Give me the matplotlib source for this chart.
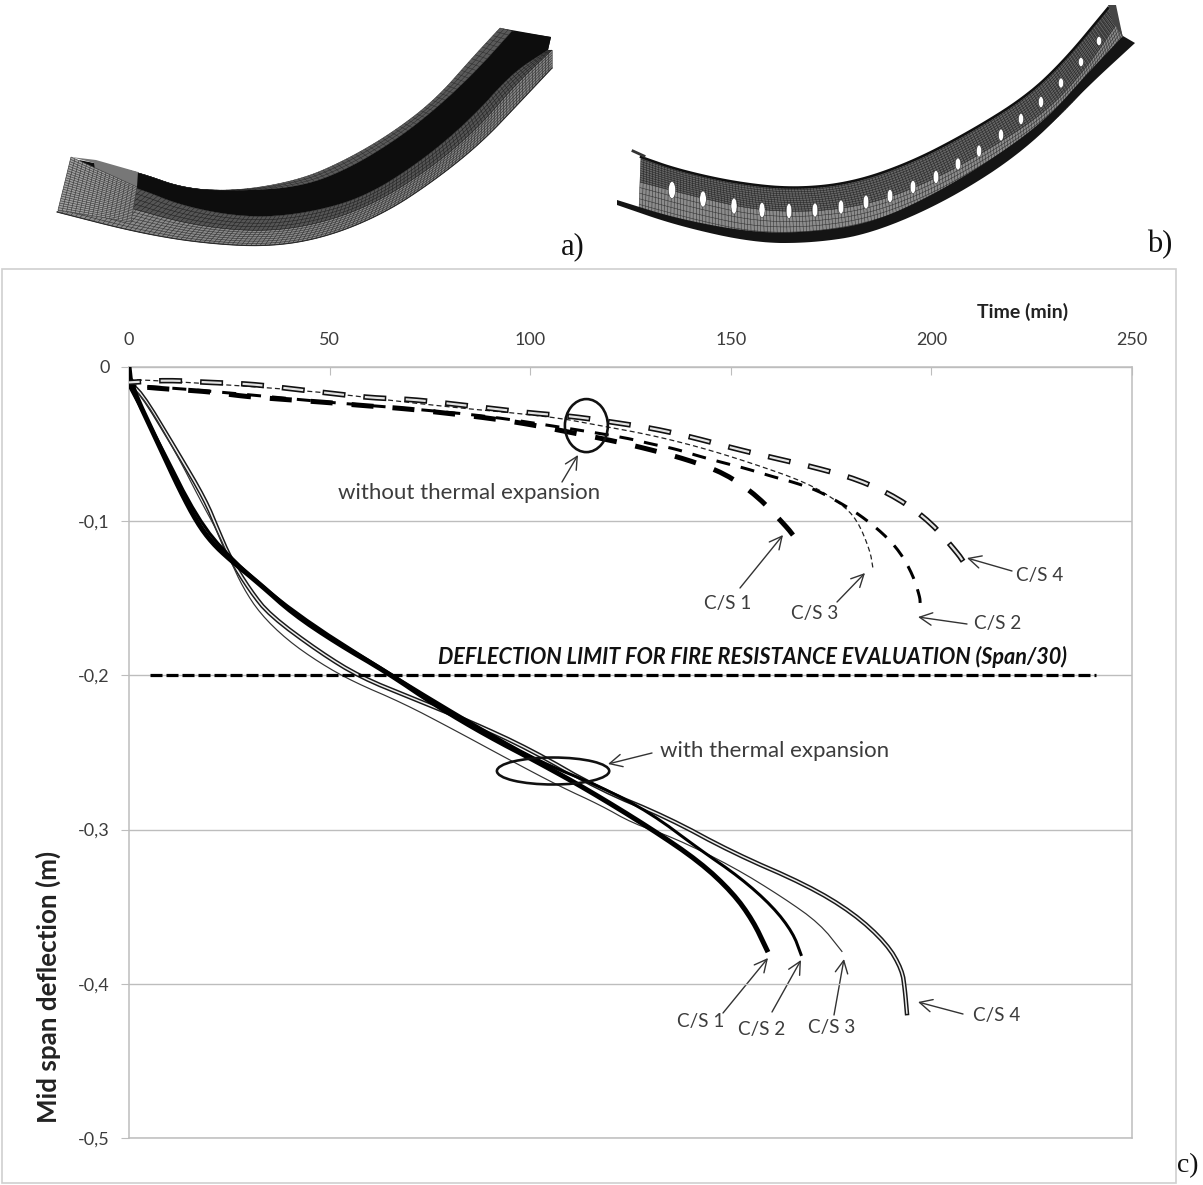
import numpy as np
import matplotlib
matplotlib.use("Agg")
import matplotlib.pyplot as plt
from matplotlib.collections import LineCollection
from matplotlib.patches import Ellipse, Polygon, Rectangle

plt.rcParams['font.family'] = ['Lato', 'DejaVu Sans']

# ---- data: without thermal expansion ----
t_no1 = [0, 7.7, 20.2, 28.4, 38.4, 49.4, 58.3, 68.8, 79.3, 89.2, 99.5, 109.2, 119.1, 129.1, 139.1, 148.6, 156.8, 164, 165.5]
d_no1 = [-0.012, -0.014, -0.016, -0.019, -0.021, -0.023, -0.025, -0.027, -0.030, -0.033, -0.037, -0.042, -0.047, -0.053, -0.060, -0.069, -0.084, -0.104, -0.109]
t_no2 = [0, 12.7, 30, 50, 70, 90, 110, 124, 130.3, 136, 142.3, 148, 154, 160.3, 166, 171.5, 177.2, 182.2, 188, 192.2, 195.4, 197.1, 197.2]
d_no2 = [-0.012, -0.014, -0.018, -0.023, -0.027, -0.032, -0.040, -0.046, -0.050, -0.053, -0.058, -0.062, -0.066, -0.071, -0.075, -0.080, -0.088, -0.096, -0.108, -0.120, -0.135, -0.149, -0.153]
t_no3 = [0, 2.7, 44.4, 75.8, 104.9, 117.4, 129.9, 142.3, 154.8, 169, 177.2, 181.5, 184.7, 185.4]
d_no3 = [-0.009, -0.008, -0.015, -0.025, -0.032, -0.038, -0.044, -0.052, -0.062, -0.075, -0.088, -0.099, -0.119, -0.130]
t_no4 = [0, 9.5, 19.7, 30.2, 40.1, 50.1, 60.3, 70.5, 80.8, 90.7, 100.7, 110.6, 121.1, 131, 141.1, 151.1, 160.8, 170.8, 181.8, 191.7, 200, 206.6, 207.9]
d_no4 = [-0.010, -0.0085, -0.010, -0.011, -0.014, -0.017, -0.020, -0.021, -0.024, -0.027, -0.030, -0.032, -0.036, -0.040, -0.046, -0.053, -0.059, -0.065, -0.073, -0.085, -0.101, -0.121, -0.126]

# ---- data: with thermal expansion ----
t_ex1 = [0, 0.5, 7.7, 12.7, 17, 20.7, 25.2, 32.7, 40.9, 51.8, 64.3, 76.8, 89.2, 101.7, 114.2, 129.9, 142.3, 150.5, 155.5, 159]
d_ex1 = [0, -0.012, -0.052, -0.080, -0.101, -0.114, -0.125, -0.141, -0.160, -0.179, -0.198, -0.220, -0.239, -0.256, -0.274, -0.299, -0.321, -0.341, -0.359, -0.378]
t_ex2 = [0, 7.7, 17, 25.2, 40.9, 64.3, 89.2, 102.4, 117.4, 129.9, 142.3, 152.3, 160.5, 165.5, 167.5]
d_ex2 = [-0.012, -0.050, -0.098, -0.124, -0.159, -0.198, -0.237, -0.256, -0.272, -0.289, -0.313, -0.331, -0.350, -0.367, -0.381]
t_ex3 = [0, 4, 12, 17.7, 21.9, 25.2, 28.4, 32.7, 39.4, 47.6, 55.8, 68.3, 80.8, 95, 107.4, 117.4, 125.6, 135.6, 150.5, 163, 172.2, 177.7]
d_ex3 = [-0.012, -0.021, -0.057, -0.086, -0.106, -0.125, -0.143, -0.160, -0.177, -0.192, -0.204, -0.218, -0.235, -0.255, -0.272, -0.284, -0.296, -0.305, -0.324, -0.344, -0.361, -0.379]
t_ex4 = [0, 2.7, 12, 19, 22.2, 25.2, 30.2, 35.1, 47.6, 57.6, 70.8, 85, 100, 117.4, 134.1, 150.5, 169, 180.5, 188.9, 192.7, 193.4, 193.9]
d_ex4 = [-0.012, -0.015, -0.055, -0.086, -0.106, -0.124, -0.145, -0.161, -0.185, -0.201, -0.215, -0.230, -0.248, -0.274, -0.292, -0.315, -0.336, -0.354, -0.374, -0.391, -0.404, -0.419]

t_limit = [5.2, 241]
d_limit = [-0.2, -0.2]

x_ticks = [0, 50, 100, 150, 200, 250]
y_ticks = [0, -0.1, -0.2, -0.3, -0.4, -0.5]
y_labels = ['0', '-0,1', '-0,2', '-0,3', '-0,4', '-0,5']

W, H = 1203, 1185
PX = 0.72  # points per pixel at dpi 100
fig = plt.figure(figsize=(W / 100, H / 100), dpi=100, facecolor='white')

GRAY = '#bdbdbd'
TXT = '#3c3c3c'


def chaikin(p, n=3):
    """Corner rounding for drawing only, keeping both end points."""
    p = np.array(p, float)
    for _ in range(n):
        q = 0.75 * p[:-1] + 0.25 * p[1:]
        r = 0.25 * p[:-1] + 0.75 * p[1:]
        m = np.empty((2 * len(q), 2))
        m[0::2], m[1::2] = q, r
        p = np.r_[p[:1], m, p[-1:]]
    return p


def smooth(x, y):
    s = chaikin(np.c_[x, y], 2)
    return s[:, 0], s[:, 1]


# ---- overlay in pixel space: frame, beam views, notes ----
ov = fig.add_axes([0, 0, 1, 1], zorder=1)
ov.set_xlim(0, W)
ov.set_ylim(H, 0)
ov.axis('off')

ax = fig.add_axes([129 / W, 1 - 1138 / H, 1003 / W, 771 / H], zorder=2)
ax.patch.set_alpha(0)
ax.set_xlim(0, 250)
ax.set_ylim(-0.5, 0)
ax.set_xticks(x_ticks)
ax.set_yticks(y_ticks)
ax.set_yticklabels(y_labels)
ax.xaxis.tick_top()
ax.grid(axis='y', color=GRAY, lw=1.0)
ax.set_axisbelow(True)
for s in ax.spines.values():
    s.set_color(GRAY)
    s.set_linewidth(1.1)
ax.tick_params(axis='x', direction='in', length=6, color=GRAY, labelsize=13, labelcolor=TXT, pad=14)
ax.tick_params(axis='y', direction='out', length=6, color=GRAY, labelsize=13, labelcolor=TXT, pad=8)


def end_phase(x, y, on, off):
    """Dash phase, in pixels, that makes the last dash finish at the curve's end."""
    sx, sy = smooth(x, y)
    length = np.hypot(np.diff(sx) * 1003 / 250, np.diff(sy) * 771 / 0.5).sum()
    return (-(length - on)) % (on + off)


def dash(x, y, lw, on, off, color='black', offset=0.0, z=3):
    sx, sy = smooth(x, y)
    ax.plot(sx, sy, color=color, lw=lw * PX, zorder=z, dash_capstyle='butt', dash_joinstyle='round',
            linestyle=(offset / lw, (on / lw, off / lw)))


# without thermal expansion
dash(t_no1, d_no1, 5.0, 22, 19, offset=end_phase(t_no1, d_no1, 22, 19), z=4)
dash(t_no2, d_no2, 3.0, 14, 11, offset=end_phase(t_no2, d_no2, 14, 11), z=4)
ax.plot(*smooth(t_no3, d_no3), color='#222222', lw=0.9, zorder=3, linestyle=(0, (4, 2.5)))
phase4 = end_phase(t_no4, d_no4, 23, 18)
dash(t_no4, d_no4, 5.5, 23, 18, color='#111111', offset=phase4, z=5)
dash(t_no4, d_no4, 2.2, 20, 21, color='#e2e2e2', offset=phase4 - 1.5, z=6)

# with thermal expansion
ax.plot(*smooth(t_ex4, d_ex4), color='#1a1a1a', lw=4.5 * PX, zorder=3, solid_joinstyle='round')
ax.plot(*smooth(t_ex4, d_ex4), color='#eeeeee', lw=1.5 * PX, zorder=3.1, solid_joinstyle='round')
ax.plot(*smooth(t_ex3, d_ex3), color='#333333', lw=1.2 * PX, zorder=3.2)
ax.plot(*smooth(t_ex2, d_ex2), color='black', lw=3.0 * PX, zorder=3.3, solid_joinstyle='round')
ax.plot(*smooth(t_ex1, d_ex1), color='black', lw=5.0 * PX, zorder=3.4, solid_joinstyle='round')

# fire resistance limit
ax.plot(t_limit, d_limit, color='black', lw=3.2 * PX, zorder=3.5, dash_capstyle='butt',
        linestyle=(0, (12 / 3.2, 4 / 3.2)))

# ellipses around the two families of curves
ax.add_patch(Ellipse((114, -0.038), 10.7, 0.0344, fill=False, ec='#111111', lw=2.6 * PX, zorder=7))
ax.add_patch(Ellipse((105.7, -0.262), 28, 0.0175, fill=False, ec='#111111', lw=2.6 * PX, zorder=7))

# outer chart frame
ov.add_patch(Rectangle((2, 269), 1174, 914, fill=False, ec='#cfcfcf', lw=1.2))

# ---- notes ----
arrows = [
    ((562, 482), (578, 455)), ((652, 753), (608, 764)),
    ((740, 588), (783, 535)), ((837, 602), (865, 573)),
    ((967, 624), (918, 617)), ((1012, 571), (967, 558)),
    ((723, 1013), (768, 958)), ((772, 1012), (801, 960)),
    ((834, 1015), (844, 959)), ((963, 1014), (918, 1002)),
]
for a, b in arrows:
    ov.annotate('', xy=b, xytext=a, xycoords='data', textcoords='data',
                arrowprops=dict(arrowstyle='->,head_length=0.9,head_width=0.45', color='#333333', lw=1.0,
                                shrinkA=0, shrinkB=0))

labels = [(728, 604, 'C/S 1'), (815, 614, 'C/S 3'), (998, 623, 'C/S 2'), (1040, 576, 'C/S 4'),
          (701, 1022, 'C/S 1'), (762, 1030, 'C/S 2'), (832, 1027, 'C/S 3'), (997, 1016, 'C/S 4')]
for x, y, s in labels:
    ov.text(x, y, s, ha='center', va='center', fontsize=13.6, color=TXT)
ov.text(469, 493, 'without thermal expansion', ha='center', va='center', fontsize=16, color=TXT)
ov.text(775, 751, 'with thermal expansion', ha='center', va='center', fontsize=16, color=TXT)
ov.text(752, 657, 'DEFLECTION LIMIT FOR FIRE RESISTANCE EVALUATION (Span/30)', ha='center', va='center',
        fontsize=15.6, fontweight='bold', fontstyle='italic', color='#111111')
ov.text(1023, 312, 'Time (min)', ha='center', va='center', fontsize=14, fontweight='bold', color='#222222')
ov.text(48, 987, 'Mid span deflection (m)', ha='center', va='center', rotation=90, fontsize=18.7,
        fontweight='bold', color='#222222')
for x, y, s, fs in [(573, 247, 'a)', 22), (1160, 245, 'b)', 22), (1188, 1166, 'c)', 20)]:
    ov.text(x, y, s, ha='center', va='center', fontsize=fs, family='Liberation Serif', color='#111111')


# ---- beam views ----
def curve(points, n):
    p = chaikin(points, 3)
    s = np.r_[0, np.cumsum(np.hypot(*np.diff(p, axis=0).T))]
    u = np.linspace(0, s[-1], n)
    return np.c_[np.interp(u, s, p[:, 0]), np.interp(u, s, p[:, 1])]


def band(a, b, nu, nv, face, line, lw=0.35, z=0.5):
    A, B = curve(a, nu), curve(b, nu)
    ov.add_patch(Polygon(np.r_[A, B[::-1]], fc=face, ec='none', zorder=z))
    segs = [np.c_[A[i], B[i]].T for i in range(nu)]
    for f in np.linspace(0, 1, nv):
        segs.append(A + (B - A) * f)
    ov.add_collection(LineCollection(segs, colors=line, linewidths=lw, zorder=z + 0.01))


# view a)
a_top = [(512, 31), (477, 70), (438, 107), (396, 140), (346, 170), (300, 187), (238, 191), (185, 189), (138, 172), (94, 163)]
a_edge = [(500, 28), (473, 57), (435, 100), (392, 133), (346, 160), (300, 180), (238, 191), (185, 189), (138, 172), (94, 163)]
a_dark_low = [(548, 50), (512, 73), (473, 117), (423, 160), (365, 197), (308, 213), (250, 218), (185, 207), (138, 188), (96, 177)]
a_low = [(552, 68), (519, 103), (481, 143), (435, 180), (385, 213), (327, 237), (269, 247), (200, 243), (135, 232), (57, 212)]
a_mid = [(552, 50), (515, 85), (476, 130), (428, 170), (372, 205), (315, 225), (258, 232), (192, 225), (137, 210), (75, 192)]
band(a_edge, a_top, 90, 4, '#5a5a5a', '#2a2a2a')
band(a_mid, a_low, 120, 8, '#8a8a8a', '#2e2e2e', lw=0.4)
band(a_dark_low, a_mid, 120, 5, '#555555', '#222222', lw=0.4)
ov.add_patch(Polygon(np.r_[curve(a_top + [(79, 160)], 80), [(96, 177)], curve(a_dark_low[::-1], 80), [(551, 37)]],
                     fc='#0d0d0d', ec='none', zorder=0.8))
ov.add_patch(Polygon([(500, 28), (551, 37), (548, 50), (512, 31)], fc='#0d0d0d', ec='none', zorder=0.8))
band([(71, 157), (58, 210)], [(137, 187), (131, 222)], 24, 18, '#a0a0a0', '#3a3a3a', lw=0.45, z=0.9)
ov.add_patch(Polygon([(71, 157), (94, 163), (96, 177), (137, 187), (138, 172), (96, 160)], fc='#777777', ec='none', zorder=0.85))
ov.plot(*curve(a_low, 120).T, color='#2a2a2a', lw=0.8, zorder=1.0)

# view b)
b_top = [(641, 157), (678, 170), (736, 183), (794, 189), (852, 183), (910, 163), (968, 133), (1026, 97), (1065, 60), (1108, 8)]
b_mid = [(640, 182), (697, 197), (755, 210), (813, 212), (871, 204), (929, 182), (988, 150), (1046, 112), (1085, 70), (1118, 22)]
b_low = [(639, 210), (697, 226), (755, 238), (813, 237), (871, 227), (929, 204), (988, 170), (1046, 130), (1092, 82), (1123, 38)]
b_fl_top = [(617, 200), (678, 219), (755, 233), (813, 232), (871, 223), (929, 197), (988, 162), (1046, 120), (1085, 76), (1123, 36)]
b_fl_low = [(617, 205), (678, 226), (755, 243), (813, 243), (871, 234), (949, 200), (1026, 150), (1084, 90), (1135, 43)]
band(b_top, b_mid, 170, 12, '#666666', '#1e1e1e', lw=0.35)
band(b_mid, b_low, 170, 6, '#8c8c8c', '#2a2a2a', lw=0.35)
ov.add_patch(Polygon(np.r_[curve(b_fl_top, 120), curve(b_fl_low[::-1], 120)], fc='#141414', ec='none', zorder=0.8))
ov.plot(*curve(b_top, 120).T, color='#101010', lw=1.8, zorder=0.85)
ov.plot([633, 644], [151, 156], color='#333333', lw=2, zorder=0.85)
ov.add_patch(Polygon([(1108, 5), (1116, 5), (1123, 38), (1112, 20)], fc='#444444', ec='none', zorder=0.85))

hole_x = [672, 703, 734, 762, 789, 815, 841, 866, 890, 913, 936, 958, 979, 1001, 1021, 1041, 1061, 1081, 1099]
hole_y = [190, 199, 206, 210, 211, 210, 207, 202, 196, 187, 177, 164, 151, 135, 119, 102, 83, 62, 41]
hole_w = [7, 6.5, 6, 6, 5.5, 5.5, 5.5, 5.5, 5.5, 5.5, 5.5, 5.5, 5, 5, 5, 5, 5, 5, 5]
hole_h = [17, 16, 16, 15, 15, 14, 14, 14, 13, 13, 13, 12, 12, 12, 11, 11, 10, 9, 9]
for x, y, w, h in zip(hole_x, hole_y, hole_w, hole_h):
    ov.add_patch(Ellipse((x, y), w, h, fc='white', ec='#222222', lw=0.3, zorder=1.0))

fig.savefig('out.png', dpi=100, facecolor='white')
